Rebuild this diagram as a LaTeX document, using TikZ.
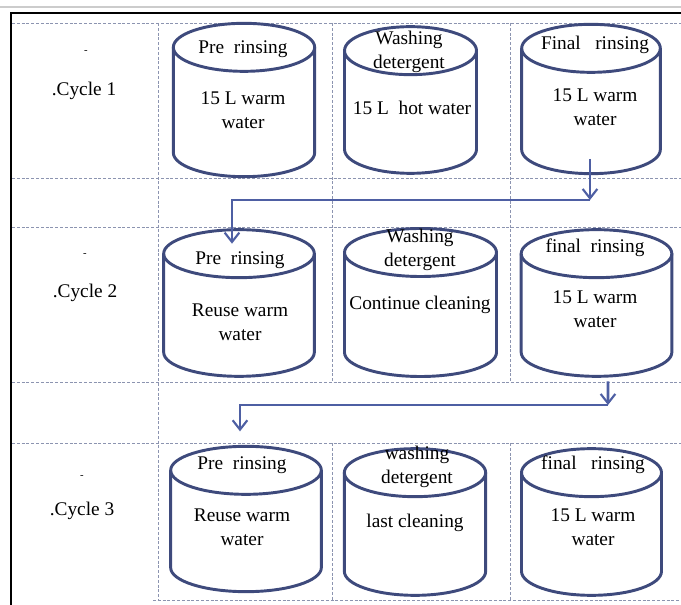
\documentclass[tikz,border=0pt]{standalone}
\usepackage{fontspec}
\setmainfont{Liberation Serif}
\usepackage{tikz}
\usetikzlibrary{shapes,arrows.meta}
\definecolor{tankBL}{HTML}{3E4A7C}
\definecolor{lineBL}{HTML}{4E5FA3}
\definecolor{gridGR}{HTML}{8C94B0}
\tikzstyle{tankbox} = [rectangle, inner sep=0pt, outer sep=0pt]
\tikzstyle{tankline} = [draw=tankBL, line width=2.2pt]
\tikzstyle{txt} = [align=center, font=\fontsize{14.5}{18}\selectfont, inner sep=0pt]
\tikzstyle{smalltxt} = [font=\fontsize{8}{8}\selectfont, inner sep=0pt]
\tikzstyle{flowline} = [draw=lineBL, line width=2pt, -{Straight Barb[length=7pt,width=11pt,line width=1.6pt]}]
\tikzstyle{cellline} = [draw=gridGR, line width=0.6pt, dash pattern=on 2.2pt off 1.4pt]
% tank: name, x, y, width, height (ends are half ellipses of height 2*18pt)
\newcommand{\tank}[5]{%
  \node[tankbox, minimum width=#4, minimum height=#5] (#1) at (#2,#3) {};
  \draw[tankline] ([yshift=-18pt]#1.north) ellipse [x radius=#4/2, y radius=18pt];
  \draw[tankline] ([yshift=-18pt]#1.north west) -- ([yshift=18pt]#1.south west)
    arc [start angle=180, end angle=360, x radius=#4/2, y radius=18pt]
    -- ([yshift=-18pt]#1.north east);
}

\begin{document}
\begin{tikzpicture}[x=0.75pt, y=-0.75pt]
  \useasboundingbox (0,0) rectangle (681,605);

  % page frame and table
  \draw[black!20, line width=1.5pt] (0,7) -- (681,7);
  \draw[black, line width=1.5pt] (681,13) -- (10.5,13) -- (10.5,605);
  \foreach \yy in {23,178,227,382,443}
    \draw[cellline] (12,\yy) -- (681,\yy);
  \draw[cellline] (153,600) -- (681,600);
  \draw[cellline] (158,23) -- (158,600);
  \foreach \xx in {332,510} {
    \draw[cellline] (\xx,23) -- (\xx,382);
    \draw[cellline] (\xx,443) -- (\xx,600);
  }

  % cycle names
  \node[smalltxt] (dot_one) at (86,52) {-};
  \node[txt] (cyc_one) at (84,91) {.Cycle 1};
  \node[smalltxt] (dot_two) at (85,255) {-};
  \node[txt] (cyc_two) at (85,293) {.Cycle 2};
  \node[smalltxt] (dot_three) at (82,477) {-};
  \node[txt] (cyc_three) at (82,511) {.Cycle 3};

  % tanks
  \tank{pre_one}{244}{100}{106pt}{115pt}
  \tank{wash_one}{410.5}{100}{99pt}{110pt}
  \tank{final_one}{591}{99}{104pt}{112pt}
  \tank{pre_two}{239}{303}{113pt}{110pt}
  \tank{wash_two}{420.5}{302.5}{114pt}{111pt}
  \tank{final_two}{596.5}{303}{113pt}{110pt}
  \tank{pre_three}{246}{519}{113pt}{109pt}
  \tank{wash_three}{415}{522}{106pt}{110pt}
  \tank{final_three}{591.5}{522}{105pt}{110pt}

  % tank texts
  \node[txt] (pre_one_t) at (243,49) {Pre\ \ rinsing};
  \node[txt] (pre_one_b) at (243,110) {15 L warm\\water};
  \node[txt] (wash_one_t) at (409,52) {Washing\\detergent};
  \node[txt] (wash_one_b) at (412,108) {15 L\ \ hot water};
  \node[txt] (final_one_t) at (595,45) {Final\ \ \ rinsing};
  \node[txt] (final_one_b) at (595,107) {15 L warm\\water};

  \node[txt] (pre_two_t) at (240,260) {Pre\ \ rinsing};
  \node[txt] (pre_two_b) at (240,322) {Reuse warm\\water};
  \node[txt] (wash_two_t) at (420,250) {Washing\\detergent};
  \node[txt] (wash_two_b) at (420,305) {Continue cleaning};
  \node[txt] (final_two_t) at (595,248) {final\ \ rinsing};
  \node[txt] (final_two_b) at (595,309) {15 L warm\\water};

  \node[txt] (pre_three_t) at (242,465) {Pre\ \ rinsing};
  \node[txt] (pre_three_b) at (242,527) {Reuse warm\\water};
  \node[txt] (wash_three_t) at (417,467) {washing\\detergent};
  \node[txt] (wash_three_b) at (415,523) {last cleaning};
  \node[txt] (final_three_t) at (593,465) {final\ \ \ rinsing};
  \node[txt] (final_three_b) at (593,527) {15 L warm\\water};

  % edges
  \coordinate (turn_one) at (590,200);
  \coordinate (turn_two) at (608,405);
  \path[flowline] ([xshift=-0.75pt,yshift=11pt]final_one.south) -- (turn_one);
  \path[flowline] (turn_one) -| ([xshift=-5.25pt,yshift=-10.5pt]pre_two.north);
  \path[flowline] ([xshift=8.6pt,yshift=-3.75pt]final_two.south) -- (turn_two);
  \path[flowline] (turn_two) -| ([xshift=-4.5pt,yshift=11.25pt]pre_three.north);
\end{tikzpicture}
\end{document}
